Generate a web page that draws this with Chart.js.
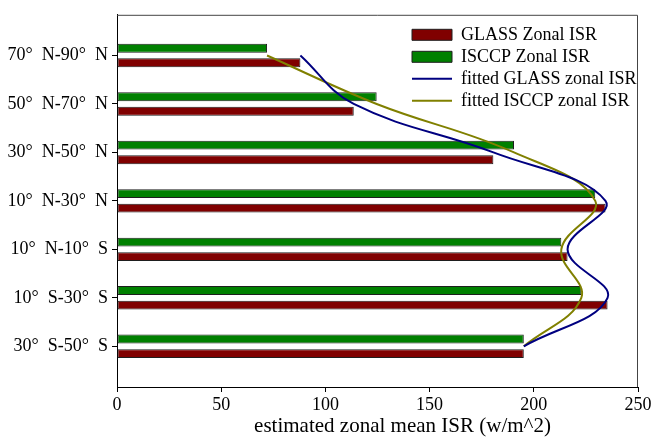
<!DOCTYPE html>
<html>
<head>
<meta charset="utf-8">
<script src="https://cdn.jsdelivr.net/npm/chart.js@4/dist/chart.umd.min.js"></script>
<style>
  html, body { margin: 0; padding: 0; background: #fff; }
  #wrap { width: 655px; height: 443px; }
</style>
</head>
<body>
<div id="wrap"><canvas id="chart"></canvas></div>
<script>
const zones = ["70°  N-90°  N", "50°  N-70°  N", "30°  N-50°  N", "10°  N-30°  N",
               "10°  N-10°  S", "10°  S-30°  S", "30°  S-50°  S"];
const glass = [88, 113.6, 180.6, 234.4, 216.2, 235.4, 195.2];
const isccp = [72, 124.6, 190.5, 229.5, 213.2, 222.8, 195.2];
const fittedGlass = [88, 113.6, 180.6, 234.4, 216.2, 235.4, 195.2];
const fittedIsccp = [72, 124.6, 190.5, 229.5, 213.2, 222.8, 195.2];
const xTicks = [0, 50, 100, 150, 200, 250];
const xTitle = "estimated zonal mean ISR (w/m^2)";

const FONT = "'Times New Roman', 'Liberation Serif', serif";
const toPoints = (arr) => arr.map((v, i) => ({ x: v, y: i }));

// top and right edge of the axes box, plus the x axis caption
const framePlugin = {
  id: "frame",
  beforeDatasetsDraw(chart) {
    const { ctx, chartArea: a } = chart;
    ctx.save();
    ctx.strokeStyle = "#444";
    ctx.lineWidth = 1;
    ctx.beginPath();
    ctx.moveTo(a.left, a.top + 0.5);
    ctx.lineTo(a.right - 0.5, a.top + 0.5);
    ctx.lineTo(a.right - 0.5, a.bottom);
    ctx.stroke();
    ctx.restore();
  },
  afterDraw(chart) {
    const { ctx, chartArea: a } = chart;
    ctx.save();
    ctx.fillStyle = "#000";
    ctx.font = "21px " + FONT;
    ctx.textAlign = "center";
    ctx.textBaseline = "alphabetic";
    ctx.fillText(xTitle, a.left + (a.right - a.left) * 0.548, 432);
    ctx.restore();
  },
};

// move the legend to the upper right corner inside the plot
const legendPlace = {
  id: "legendPlace",
  afterLayout(chart) {
    const l = chart.legend;
    const a = chart.chartArea;
    const w = l.width;
    l.left = a.right - 230;
    l.right = l.left + w;
    l.top = a.top + 7;
    l.bottom = l.top + l.height;
  },
};

const legendOrder = [3, 2, 0, 1];

new Chart(document.getElementById("chart"), {
  data: {
    datasets: [
      {
        type: "line",
        label: "fitted GLASS zonal ISR",
        data: toPoints(fittedGlass),
        borderColor: "#000080",
        backgroundColor: "#000080",
        borderWidth: 2,
        pointRadius: 0,
        tension: 0.4,
      },
      {
        type: "line",
        label: "fitted ISCCP zonal ISR",
        data: toPoints(fittedIsccp),
        borderColor: "#808000",
        backgroundColor: "#808000",
        borderWidth: 2,
        pointRadius: 0,
        tension: 0.4,
      },
      {
        type: "bar",
        label: "ISCCP Zonal ISR",
        data: toPoints(isccp),
        backgroundColor: "#008000",
        borderColor: "#1e1e1e",
        borderWidth: 1,
        borderSkipped: false,
        categoryPercentage: 0.6,
        barPercentage: 0.61,
      },
      {
        type: "bar",
        label: "GLASS Zonal ISR",
        data: toPoints(glass),
        backgroundColor: "#800000",
        borderColor: "#1e1e1e",
        borderWidth: 1,
        borderSkipped: false,
        categoryPercentage: 0.6,
        barPercentage: 0.61,
      },
    ],
  },
  options: {
    indexAxis: "y",
    responsive: true,
    maintainAspectRatio: false,
    animation: false,
    layout: { padding: { left: 0, right: 17, top: 12, bottom: 0 } },
    plugins: {
      tooltip: { enabled: false },
      legend: {
        position: "chartArea",
        align: "start",
        labels: {
          usePointStyle: true,
          pointStyleWidth: 40,
          boxHeight: 11,
          padding: 4,
          color: "#000",
          font: { family: FONT, size: 18 },
          generateLabels: (chart) =>
            legendOrder.map((i) => {
              const ds = chart.data.datasets[i];
              const isLine = ds.type === "line";
              return {
                text: ds.label,
                fillStyle: ds.backgroundColor,
                strokeStyle: isLine ? ds.borderColor : "#1e1e1e",
                lineWidth: isLine ? 2 : 1,
                pointStyle: isLine ? "line" : "rect",
                fontColor: "#000",
                hidden: false,
                datasetIndex: i,
              };
            }),
        },
      },
    },
    scales: {
      x: {
        type: "linear",
        min: 0,
        max: 250,
        offset: false,
        afterBuildTicks: (s) => { s.ticks = xTicks.map((v) => ({ value: v })); },
        afterFit: (s) => { s.height = 56; },
        ticks: { color: "#000", padding: 2, font: { family: FONT, size: 18 } },
        grid: { drawOnChartArea: false, offset: false, tickLength: 5, color: "#000" },
        border: { color: "#000", width: 1 },
      },
      y: {
        type: "linear",
        reverse: true,
        offset: false,
        min: -0.84,
        max: 6.84,
        afterBuildTicks: (s) => { s.ticks = zones.map((_, i) => ({ value: i })); },
        afterFit: (s) => { s.width = 117; },
        ticks: {
          color: "#000",
          padding: 4,
          font: { family: FONT, size: 18 },
          callback: (v) => zones[v],
        },
        grid: { drawOnChartArea: false, offset: false, tickLength: 5, color: "#000" },
        border: { color: "#000", width: 1 },
      },
    },
  },
  plugins: [framePlugin, legendPlace],
});
</script>
</body>
</html>
